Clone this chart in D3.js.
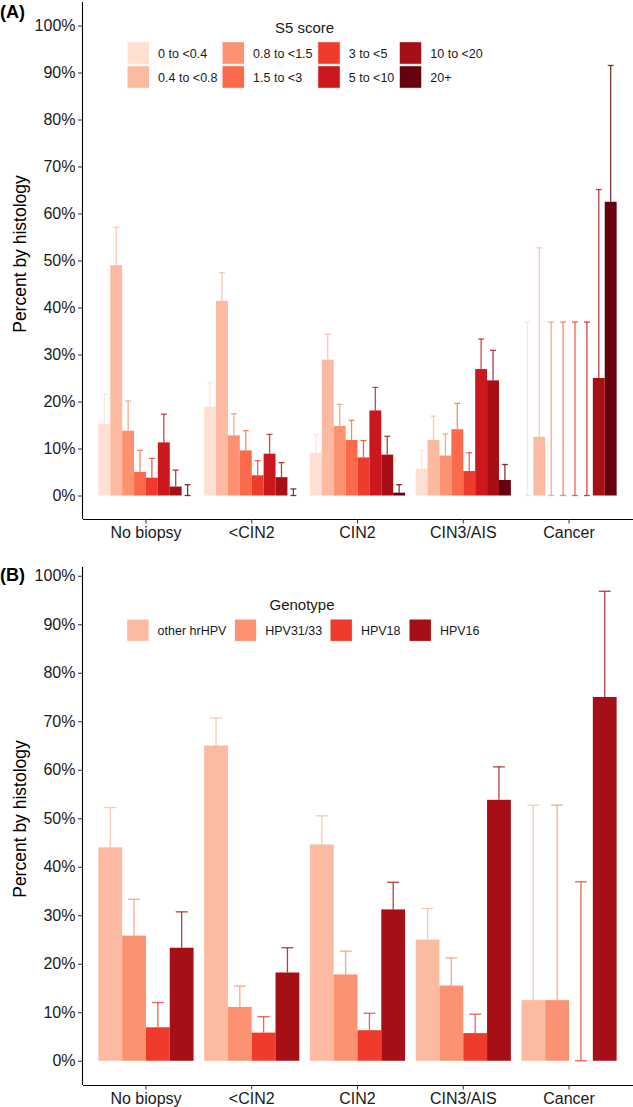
<!DOCTYPE html>
<html>
<head>
<meta charset="utf-8">
<script src="https://cdn.jsdelivr.net/npm/d3@7"></script>
<style>
  html, body { margin: 0; padding: 0; background: #fff; }
  svg { display: block; font-family: "Liberation Sans", Arial, Helvetica, sans-serif; }
</style>
</head>
<body>
<svg id="chart" width="633" height="1107"></svg>
<script>
// ---------------- DATA ----------------
const categories = ["No biopsy", "<CIN2", "CIN2", "CIN3/AIS", "Cancer"];
const yTicks = [0, 10, 20, 30, 40, 50, 60, 70, 80, 90, 100];

// Panel A: S5 score
const s5Levels = ["0 to <0.4", "0.4 to <0.8", "0.8 to <1.5", "1.5 to <3", "3 to <5", "5 to <10", "10 to <20", "20+"];
const s5Colors = ["#fee0d2", "#fcbba1", "#fc9272", "#fb6a4a", "#ef3b2c", "#cb181d", "#a50f15", "#67000d"];
// percent by histology, one row per category
const s5Values = [
  [15.2, 49.0, 13.8, 5.0, 3.8, 11.3, 1.9, 0],
  [18.9, 41.4, 12.8, 9.6, 4.3, 8.9, 3.9, 0],
  [9.1, 28.9, 14.8, 11.8, 8.1, 18.1, 8.7, 0.6],
  [5.7, 11.8, 8.5, 14.1, 5.2, 26.9, 24.5, 3.3],
  [0, 12.5, 0, 0, 0, 0, 25.0, 62.5]
];
const s5Upper = [
  [21.6, 57.1, 20.1, 9.6, 7.9, 17.3, 5.4, 2.3],
  [24.0, 47.4, 17.4, 13.8, 7.4, 13.0, 7.0, 1.4],
  [13.0, 34.3, 19.4, 16.0, 11.7, 23.0, 12.6, 2.3],
  [9.6, 16.9, 13.1, 19.6, 9.1, 33.3, 30.9, 6.6],
  [36.9, 52.7, 36.9, 36.9, 36.9, 36.9, 65.1, 91.5]
];

// Panel B: Genotype
const genoLevels = ["other hrHPV", "HPV31/33", "HPV18", "HPV16"];
const genoColors = ["#fcbba1", "#fc9272", "#ef3b2c", "#a50f15"];
const genoValues = [
  [44.0, 25.8, 6.9, 23.3],
  [65.0, 11.1, 5.8, 18.2],
  [44.6, 17.8, 6.3, 31.2],
  [25.0, 15.5, 5.7, 53.8],
  [12.5, 12.5, 0, 75.0]
];
const genoUpper = [
  [52.2, 33.3, 12.0, 30.7],
  [70.7, 15.4, 9.1, 23.3],
  [50.5, 22.6, 9.8, 36.8],
  [31.4, 21.2, 9.6, 60.6],
  [52.7, 52.7, 36.9, 96.8]
];

// ---------------- DRAW ----------------
const svg = d3.select("#chart");
const X0 = 82.5, X1 = 632.5;

function panel(opts) {
  const { top, bottom, axisTop, tag, tagY, titleY, levels, colors, values, upper,
          legendTitle, legendTitleY, legendKeys, legendRows, keySize } = opts;
  const g = svg.append("g");

  const x = d3.scaleBand().domain(categories).range([X0, X1])
    .paddingInner(0.1).paddingOuter(0.15);
  const xs = d3.scaleBand().domain(levels).range([0, x.bandwidth()]);
  const y = d3.scaleLinear().domain([-5, 105]).range([bottom, top]);

  // bars
  const rows = [];
  categories.forEach((c, ci) => levels.forEach((l, li) => {
    rows.push({ c, l, li, v: values[ci][li], u: upper[ci][li] });
  }));

  g.append("g").selectAll("rect").data(rows).join("rect")
    .attr("x", d => x(d.c) + xs(d.l))
    .attr("width", xs.bandwidth())
    .attr("y", d => y(d.v))
    .attr("height", d => y(0) - y(d.v))
    .attr("fill", d => colors[d.li]);

  // error bars
  const eb = g.append("g").attr("stroke-width", 1.3).attr("fill", "none");
  const capW = xs.bandwidth() * 0.5;
  rows.forEach(d => {
    const cx = x(d.c) + xs(d.l) + xs.bandwidth() / 2;
    const col = colors[d.li];
    const e = eb.append("g").attr("stroke", col).attr("stroke-opacity", 0.8);
    e.append("line").attr("x1", cx).attr("x2", cx).attr("y1", y(d.v)).attr("y2", y(d.u));
    e.append("line").attr("x1", cx - capW / 2).attr("x2", cx + capW / 2).attr("y1", y(d.u)).attr("y2", y(d.u));
    if (d.v === 0) {
      e.append("line").attr("x1", cx - capW / 2).attr("x2", cx + capW / 2).attr("y1", y(0)).attr("y2", y(0));
    }
  });

  // y axis
  const ya = g.append("g").attr("transform", `translate(${X0},0)`)
    .call(d3.axisLeft(y).tickValues(yTicks).tickFormat(d => d + "%")
      .tickSize(4.5).tickPadding(2.5).tickSizeOuter(0));
  ya.select(".domain").remove();
  ya.selectAll(".tick line").attr("stroke", "#333").attr("stroke-width", 1);
  ya.selectAll(".tick text").attr("font-size", 16).attr("fill", "#1a1a1a")
    .attr("font-family", "Liberation Sans, Arial, sans-serif");
  g.append("line").attr("x1", X0).attr("x2", X0).attr("y1", axisTop).attr("y2", bottom)
    .attr("stroke", "#000").attr("stroke-width", 1.1);

  // x axis
  const xa = g.append("g").attr("transform", `translate(0,${bottom})`)
    .call(d3.axisBottom(x).tickSize(4.5).tickPadding(3.6).tickSizeOuter(0));
  xa.select(".domain").attr("stroke", "#000").attr("stroke-width", 1.1);
  xa.selectAll(".tick line").attr("stroke", "#333");
  xa.selectAll(".tick text").attr("font-size", 16).attr("fill", "#1a1a1a")
    .attr("font-family", "Liberation Sans, Arial, sans-serif");

  // y title
  g.append("text")
    .attr("transform", `translate(26,${titleY}) rotate(-90)`)
    .attr("text-anchor", "middle").attr("font-size", 17.5).attr("fill", "#000")
    .text("Percent by histology");

  // tag
  g.append("text").attr("x", 0).attr("y", tagY).attr("font-size", 18)
    .attr("font-weight", "bold").attr("fill", "#000").text(tag);

  // legend
  const lg = g.append("g");
  lg.append("text").attr("x", legendKeys.titleX).attr("y", legendTitleY)
    .attr("text-anchor", "middle").attr("font-size", 15).attr("fill", "#1a1a1a")
    .text(legendTitle);
  levels.forEach((l, i) => {
    const col = Math.floor(i / legendRows.length);
    const row = i % legendRows.length;
    const kx = legendKeys.xs[col];
    const ky = legendRows[row];
    lg.append("rect").attr("x", kx).attr("y", ky).attr("width", keySize).attr("height", keySize)
      .attr("fill", colors[i]).attr("stroke", "#fff").attr("stroke-width", 1);
    lg.append("text").attr("x", kx + keySize + 8.5).attr("y", ky + keySize / 2 + 4.5)
      .attr("font-size", 12.5).attr("fill", "#1a1a1a").text(l);
  });
}

panel({
  top: 2, bottom: 519, axisTop: 2, tag: "(A)", tagY: 18, titleY: 254,
  levels: s5Levels, colors: s5Colors, values: s5Values, upper: s5Upper,
  legendTitle: "S5 score", legendTitleY: 33,
  legendKeys: { xs: [127, 222, 317.7, 399.2], titleX: 304.5 },
  legendRows: [41.7, 65.7], keySize: 22.6
});

panel({
  top: 551.5, bottom: 1085, axisTop: 567, tag: "(B)", tagY: 581, titleY: 819,
  levels: genoLevels, colors: genoColors, values: genoValues, upper: genoUpper,
  legendTitle: "Genotype", legendTitleY: 609.5,
  legendKeys: { xs: [126.7, 234.3, 330, 409], titleX: 302 },
  legendRows: [619], keySize: 22.4
});
</script>
</body>
</html>
